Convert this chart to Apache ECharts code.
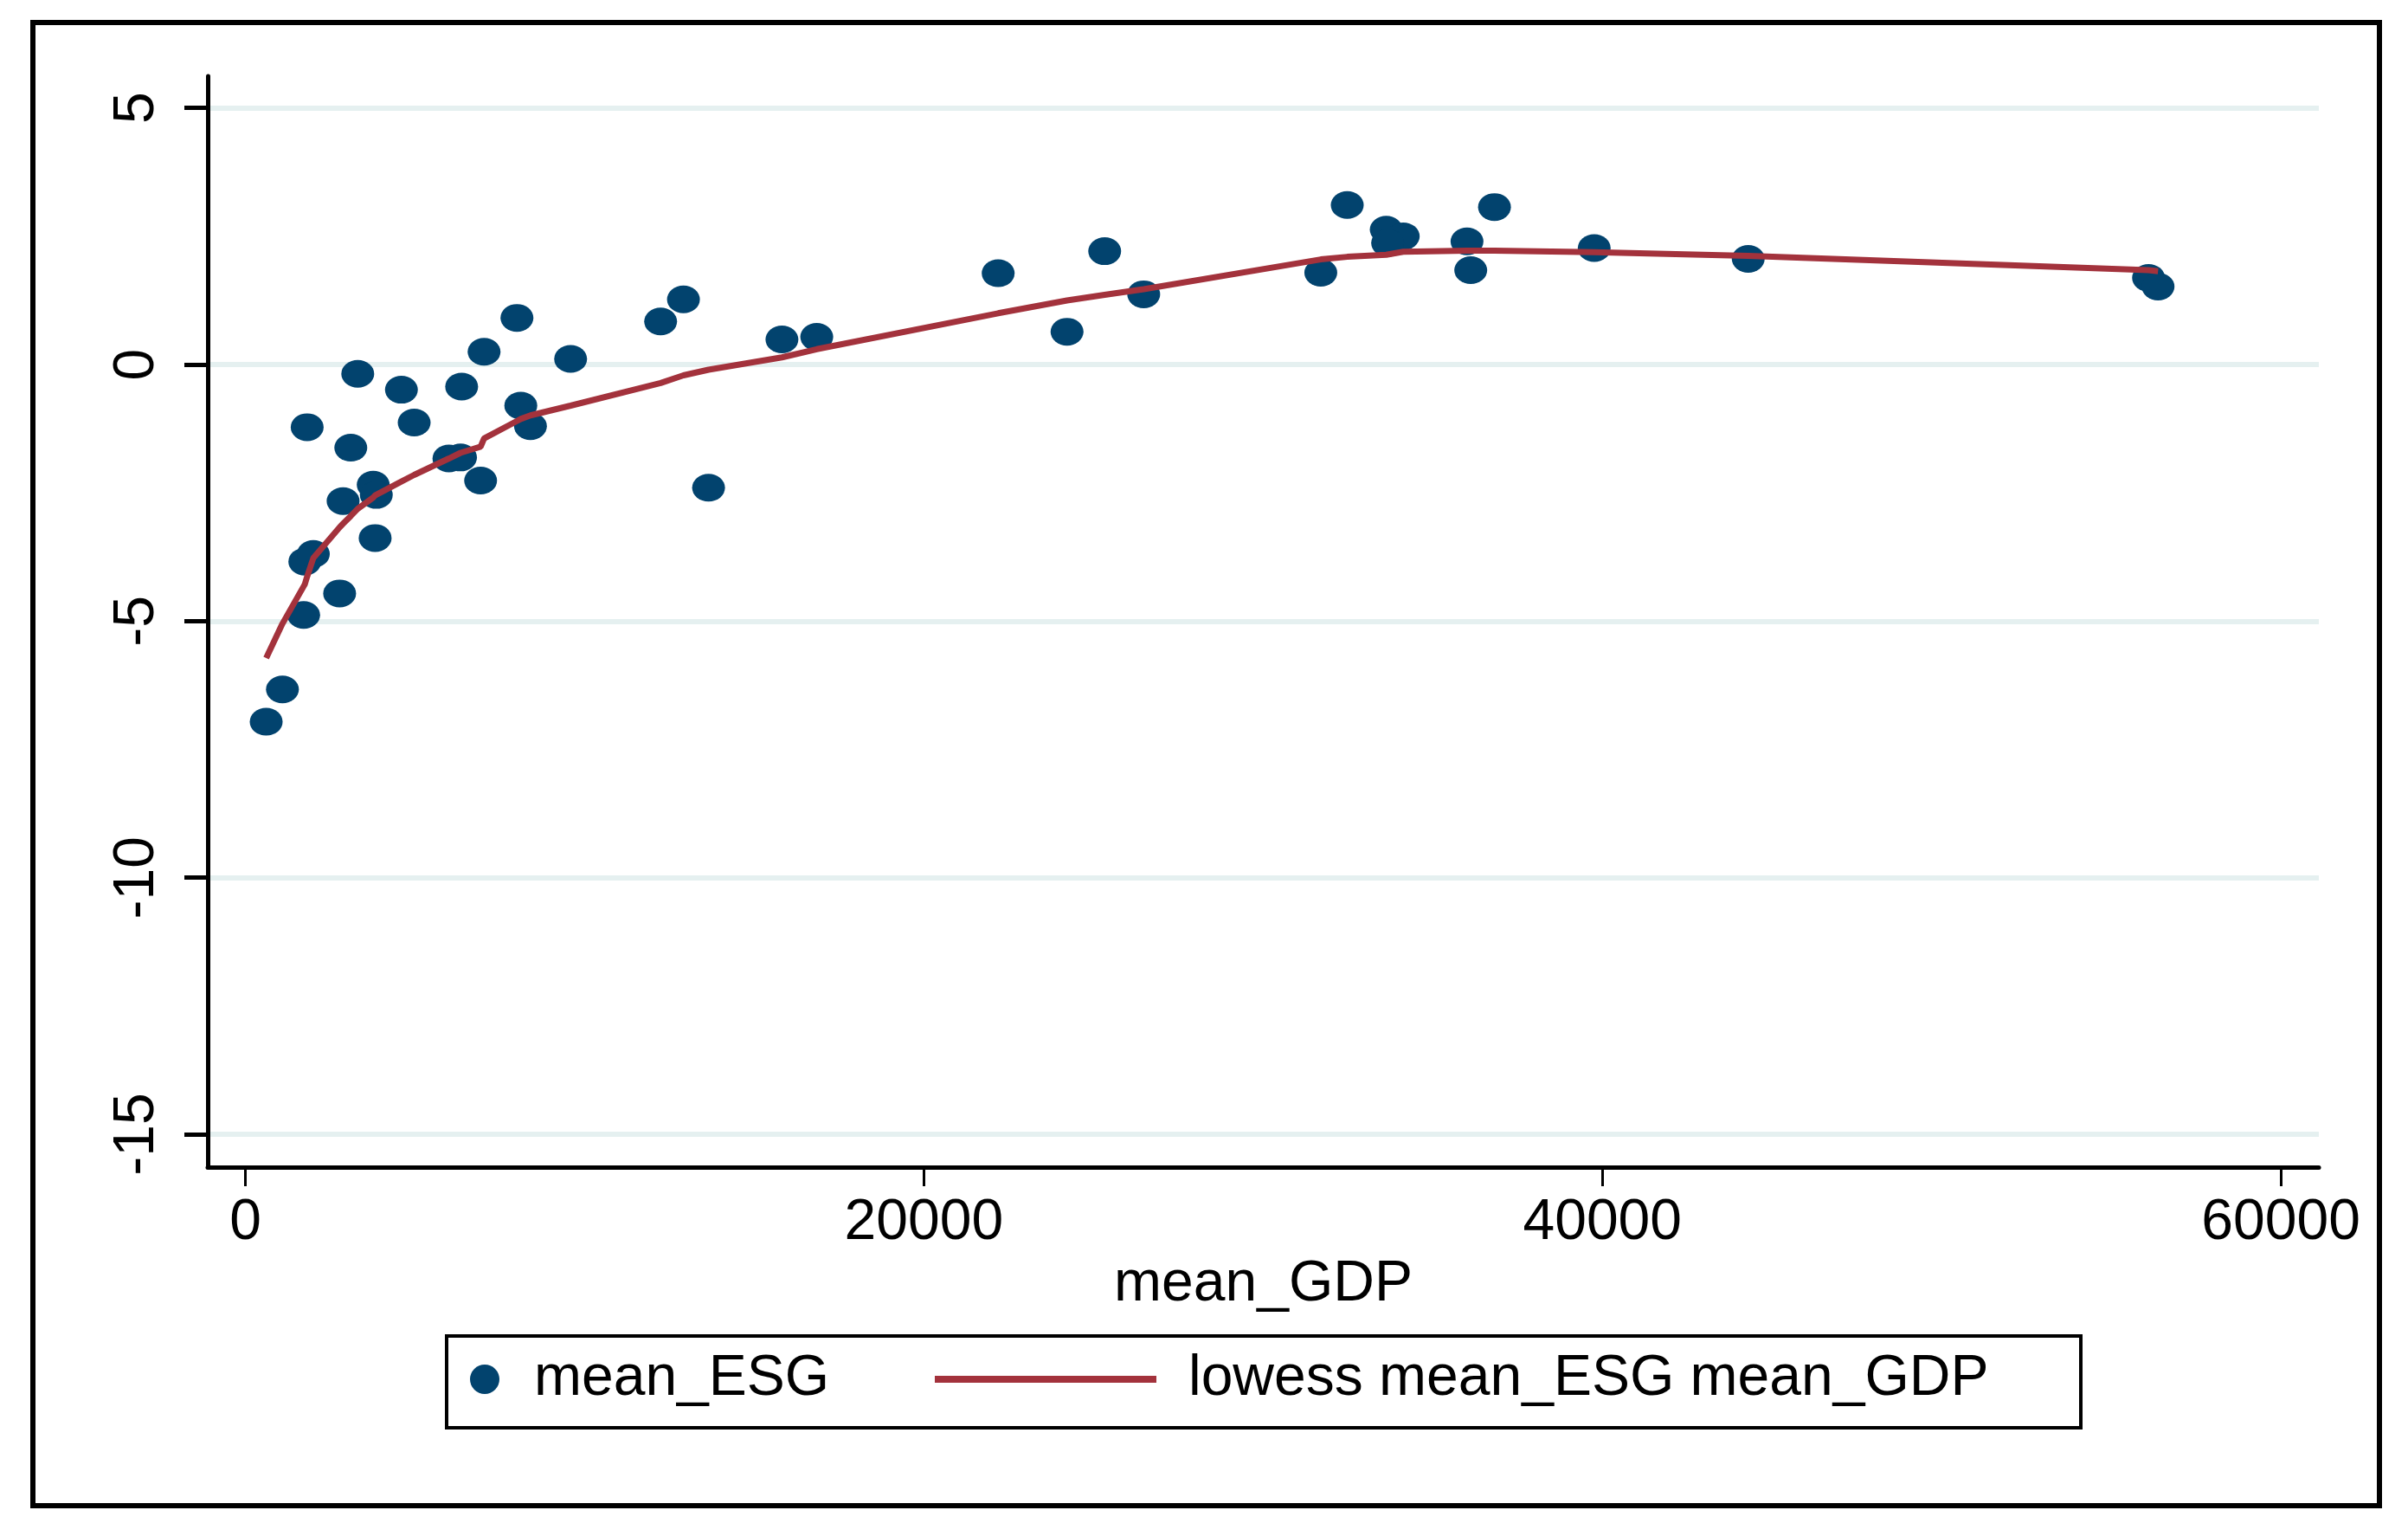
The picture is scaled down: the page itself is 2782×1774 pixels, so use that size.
<!DOCTYPE html>
<html>
<head>
<meta charset="utf-8">
<script src="https://cdn.jsdelivr.net/npm/echarts@6/dist/echarts.min.js"></script>
<style>
html,body{margin:0;padding:0;background:#fff;}
#chart{width:2782px;height:1774px;}
</style>
</head>
<body>
<div id="chart"></div>
<script>
// ---- data ----
const xTicks = [0, 20000, 40000, 60000];
const yTicks = [-15, -10, -5, 0, 5];

const meanGDP = [613, 1092, 1718, 2778, 1752, 2003, 3825, 2880, 3768, 3859, 1821, 3107, 3312, 4599, 4975, 6000, 6342, 6934, 6375, 7036, 8005, 8118, 8403, 9587, 12240, 12913, 13653, 15816, 16842, 22190, 25330, 24220, 26480, 31700, 32480, 33630, 34130, 33670, 36010, 36120, 36820, 39760, 44300, 56100, 56380];
const meanESG = [-6.96, -6.33, -4.88, -4.46, -3.84, -3.69, -3.38, -2.66, -2.34, -2.54, -1.22, -1.62, -0.18, -0.49, -1.13, -1.83, -1.81, -2.26, -0.43, 0.25, 0.91, -0.80, -1.20, 0.11, 0.84, 1.27, -2.40, 0.49, 0.54, 1.78, 2.21, 0.64, 1.37, 1.79, 3.11, 2.63, 2.50, 2.37, 2.40, 1.84, 3.07, 2.27, 2.06, 1.69, 1.52];

const lowessX = [613, 1092, 1718, 1752, 1821, 2003, 2778, 2880, 3107, 3312, 3768, 3825, 3859, 4599, 4975, 6000, 6342, 6375, 6934, 7036, 8005, 8118, 8403, 9587, 12240, 12913, 13653, 15816, 16842, 22190, 24220, 25330, 26480, 31700, 32480, 33630, 33670, 34130, 36010, 36120, 36820, 39760, 44300, 56100, 56380];
const lowessY = [-5.72, -5.05, -4.32, -4.28, -4.13, -3.77, -3.17, -3.10, -2.95, -2.81, -2.59, -2.55, -2.54, -2.28, -2.15, -1.83, -1.72, -1.71, -1.60, -1.44, -1.10, -1.06, -0.99, -0.80, -0.36, -0.21, -0.10, 0.14, 0.30, 1.00, 1.25, 1.36, 1.47, 2.05, 2.10, 2.14, 2.15, 2.20, 2.22, 2.22, 2.22, 2.19, 2.12, 1.84, 1.82];

const scatterName = 'mean_ESG';
const lineName = 'lowess mean_ESG mean_GDP';
const xName = 'mean_GDP';

// ---- chart ----
const FONT = "'Liberation Sans', Arial, sans-serif";
const FS = 66;
const navy = '#02436e';
const maroon = '#a3323c';
const ellipse = 'path://M50,0A50,50,0,1,1,50,100A50,50,0,1,1,50,0Z';

const chart = echarts.init(document.getElementById('chart'));
chart.setOption({
  animation: false,
  backgroundColor: '#ffffff',
  grid: {left: 240, right: 103, top: 88, bottom: 426, containLabel: false},
  xAxis: {
    type: 'value',
    min: -1110, max: 61120,
    name: xName, nameLocation: 'middle', nameGap: 93,
    nameTextStyle: {fontFamily: FONT, fontSize: FS, color: '#000'},
    axisLine: {show: true, onZero: false, lineStyle: {color: '#000', width: 5}},
    axisTick: {show: true, customValues: xTicks, length: 22, lineStyle: {color: '#000', width: 3}},
    axisLabel: {show: true, customValues: xTicks, margin: 32, fontFamily: FONT, fontSize: FS, color: '#000',
                formatter: v => String(v)},
    splitLine: {show: false}
  },
  yAxis: {
    type: 'value',
    min: -15.64, max: 5.62,
    axisLine: {show: true, onZero: false, lineStyle: {color: '#000', width: 5}},
    axisTick: {show: true, customValues: yTicks, length: 27, lineStyle: {color: '#000', width: 5}},
    axisLabel: {show: true, customValues: yTicks, rotate: 90, margin: 48, fontFamily: FONT, fontSize: FS, color: '#000',
                formatter: v => String(v)},
    splitLine: {show: true, lineStyle: {color: '#e5f0f0', width: 6}}
  },
  legend: [
    {
      data: [{name: scatterName, icon: 'circle'}],
      left: 543, top: 1560, padding: 0,
      itemWidth: 104, itemHeight: 34,
      textStyle: {fontFamily: FONT, fontSize: FS, color: '#000'},
      selectedMode: false
    },
    {
      data: [{name: lineName, icon: 'rect'}],
      left: 1080, top: 1560, padding: 0,
      itemWidth: 256, itemHeight: 8,
      textStyle: {fontFamily: FONT, fontSize: FS, color: '#000', padding: [0, 0, 0, 32]},
      selectedMode: false
    }
  ],
  graphic: [
    {type: 'rect', shape: {x: 38, y: 26, width: 2711, height: 1713}, style: {fill: 'none', stroke: '#000', lineWidth: 6}, silent: true},
    {type: 'rect', shape: {x: 516, y: 1543, width: 1888, height: 106}, style: {fill: 'none', stroke: '#000', lineWidth: 4}, silent: true}
  ],
  series: [
    {
      name: scatterName,
      type: 'scatter',
      symbol: ellipse,
      symbolSize: [38, 32],
      itemStyle: {color: navy, opacity: 1},
      data: meanGDP.map((x, i) => [x, meanESG[i]]),
      z: 2
    },
    {
      name: lineName,
      type: 'line',
      symbol: 'none',
      showSymbol: false,
      lineStyle: {color: maroon, width: 7},
      itemStyle: {color: maroon},
      data: lowessX.map((x, i) => [x, lowessY[i]]),
      z: 3
    }
  ]
});
</script>
</body>
</html>
